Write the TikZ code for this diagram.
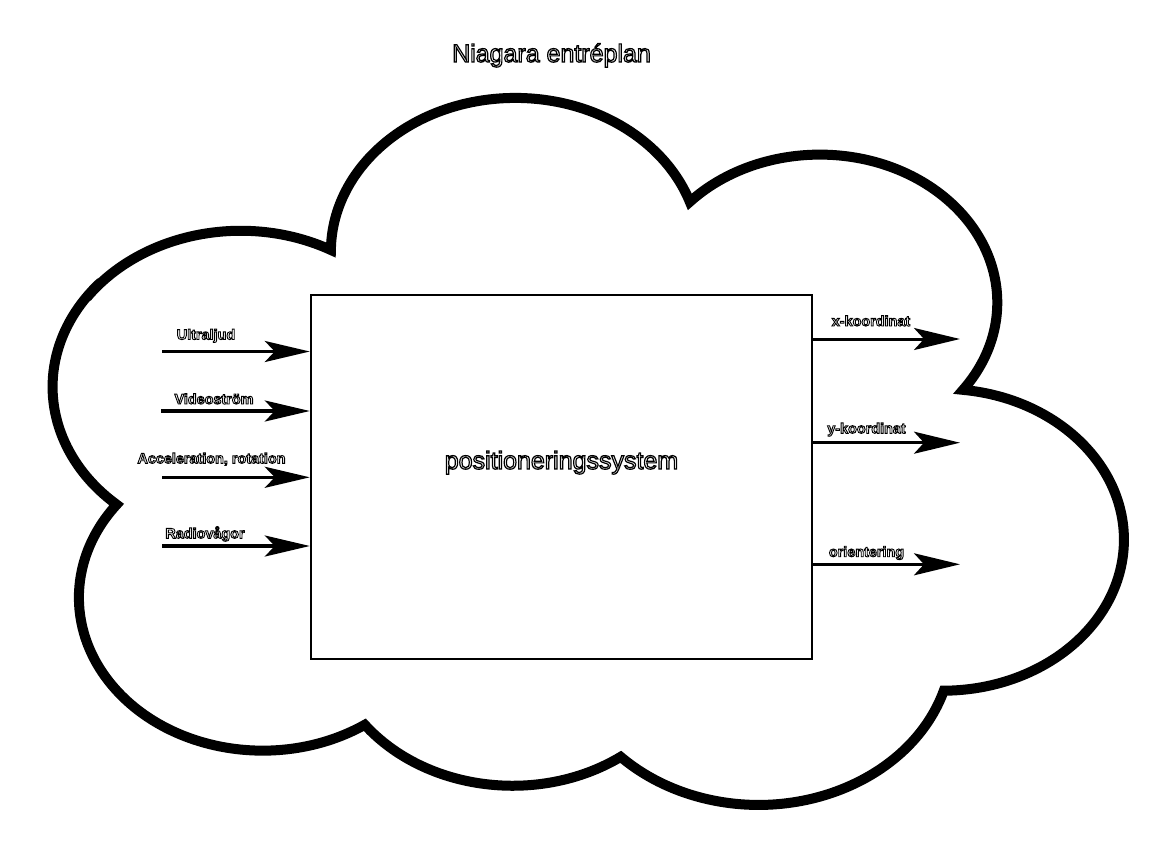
\documentclass[tikz,border=0pt]{standalone}
\usepackage{fontspec}
\setmainfont{Liberation Sans}
\usetikzlibrary{arrows.meta}
% white letters with a black outline (PDF text rendering mode 2: fill and stroke)
\newcommand\outlinedtext[2]{{\color{white}\special{pdf:literal direct 2 Tr #1 w 0 G}#2\special{pdf:literal direct 0 Tr}}}
\tikzset{
  cloudline/.style={draw=black, line width=10pt, line join=miter, miter limit=20},
  sysbox/.style={draw=black, line width=2.4pt, minimum width=501pt, minimum height=364pt, inner sep=0pt},
  bigtext/.style={inner sep=0pt, anchor=base, font=\fontsize{25}{30}\selectfont},
  smalltext/.style={inner sep=0pt, anchor=base, font=\fontsize{14.4}{17}\selectfont\bfseries},
  inarrow/.style={line width=3.5pt, -{Stealth[length=45pt,width=21pt,inset=10pt]}},
  outarrow/.style={line width=3pt, -{Stealth[length=46pt,width=22pt,inset=10pt]}}
}
\begin{document}
\begin{tikzpicture}[x=1pt,y=-1pt]
\fill[white] (0,0) rectangle (1162,844);
\path[use as bounding box] (0,0) rectangle (1162,844);

% cloud: seven bumps, circular arcs stretched horizontally by 1.2
\begin{scope}[xscale=1.2]
\draw[cloudline] (72.4,297.5)
  arc[start angle=215, end angle=298.7, radius=156.5]
  arc[start angle=180.6, end angle=341.1, radius=153.7]
  arc[start angle=222.9, end angle=396.2, radius=147.9]
  arc[start angle=276.4, end angle=449.7, radius=150.9]
  arc[start angle=17.0, end angle=135.4, radius=161.4]
  arc[start angle=54.4, end angle=142.7, radius=154.8]
  arc[start angle=56.2, end angle=217.4, radius=153.1]
  arc[start angle=131.2, end angle=222, radius=156.5];
\end{scope}

% system box
\node[sysbox] (sys) at (561.5,477) {};

% inputs
\coordinate (in1) at (162,351.5);
\coordinate (in2) at (161,411);
\coordinate (in3) at (162,477.3);
\coordinate (in4) at (162,546);
\draw[inarrow] (in1) -- (in1 -| sys.west);
\draw[inarrow] (in2) -- (in2 -| sys.west);
\draw[inarrow] (in3) -- (in3 -| sys.west);
\draw[inarrow] (in4) -- (in4 -| sys.west);

% outputs
\coordinate (out1) at (960,339);
\coordinate (out2) at (960,442.7);
\coordinate (out3) at (960,564.3);
\draw[outarrow] (out1 -| sys.east) -- (out1);
\draw[outarrow] (out2 -| sys.east) -- (out2);
\draw[outarrow] (out3 -| sys.east) -- (out3);

% texts
\node[bigtext] (title) at (551.5,62) {\outlinedtext{1.2}{Niagara entréplan}};
\node[bigtext] (syslabel) at (561.5,469) {\outlinedtext{1.2}{positioneringssystem}};
\node[smalltext] (lin1) at (206,339.5) {\outlinedtext{0.9}{Ultraljud}};
\node[smalltext] (lin2) at (214,404) {\outlinedtext{0.9}{Videoström}};
\node[smalltext] (lin3) at (211.5,463.3) {\outlinedtext{0.9}{Acceleration, rotation}};
\node[smalltext] (lin4) at (205,538.3) {\outlinedtext{0.9}{Radiovågor}};
\node[smalltext] (lout1) at (871,326) {\outlinedtext{0.9}{x-koordinat}};
\node[smalltext] (lout2) at (866.5,433.3) {\outlinedtext{0.9}{y-koordinat}};
\node[smalltext] (lout3) at (866.5,556.7) {\outlinedtext{0.9}{orientering}};
\end{tikzpicture}
\end{document}
